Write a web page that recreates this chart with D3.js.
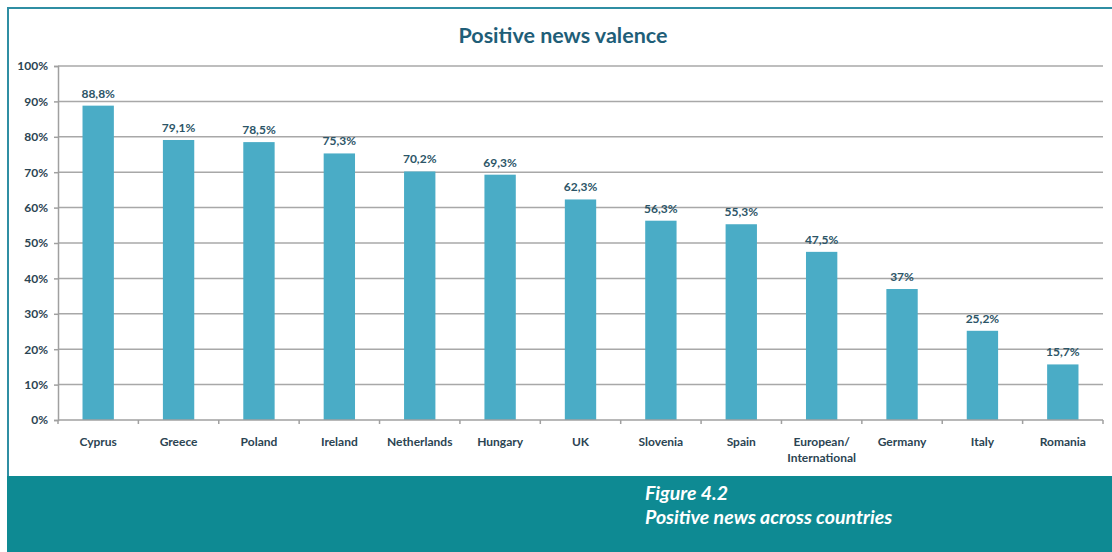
<!DOCTYPE html>
<html>
<head>
<meta charset="utf-8">
<script src="https://cdn.jsdelivr.net/npm/d3@7"></script>
<style>
  html, body { margin: 0; padding: 0; background: #fff; }
  svg { display: block; }
</style>
</head>
<body>
<svg id="chart" width="1112" height="552"></svg>
<script>
const categories = ["Cyprus", "Greece", "Poland", "Ireland", "Netherlands", "Hungary", "UK", "Slovenia", "Spain", "European/International", "Germany", "Italy", "Romania"];
const categoryLines = [["Cyprus"], ["Greece"], ["Poland"], ["Ireland"], ["Netherlands"], ["Hungary"], ["UK"], ["Slovenia"], ["Spain"], ["European/", "International"], ["Germany"], ["Italy"], ["Romania"]];
const values = [88.8, 79.1, 78.5, 75.3, 70.2, 69.3, 62.3, 56.3, 55.3, 47.5, 37, 25.2, 15.7];
const valueLabels = ["88,8%", "79,1%", "78,5%", "75,3%", "70,2%", "69,3%", "62,3%", "56,3%", "55,3%", "47,5%", "37%", "25,2%", "15,7%"];
const yTicks = [0, 10, 20, 30, 40, 50, 60, 70, 80, 90, 100];
const title = "Positive news valence";
const captionLines = ["Figure 4.2", "Positive news across countries"];

const svg = d3.select("#chart");
const W = 1112, H = 552;
const font = "Lato, 'Open Sans', sans-serif";

// frame
svg.append("rect").attr("x", 0).attr("y", 0).attr("width", W).attr("height", H).attr("fill", "#fff");
svg.append("line").attr("x1", 8).attr("x2", W).attr("y1", 8).attr("y2", 8)
  .attr("stroke", "#2f8ea3").attr("stroke-width", 2);
svg.append("line").attr("x1", 8).attr("x2", 8).attr("y1", 7).attr("y2", H)
  .attr("stroke", "#2f8ea3").attr("stroke-width", 2);

// caption band
svg.append("rect").attr("x", 7).attr("y", 476).attr("width", W - 7).attr("height", H - 476).attr("fill", "#0e8a93");
svg.append("g").selectAll("text").data(captionLines).join("text")
  .attr("x", 645).attr("y", (d, i) => 500 + i * 24)
  .attr("fill", "#fff").attr("font-family", font).attr("font-weight", "bold")
  .attr("font-style", "italic").attr("font-size", 19.5).text(d => d);

// title
svg.append("text").attr("x", 563).attr("y", 43).attr("text-anchor", "middle")
  .attr("fill", "#1f5e78").attr("font-family", font).attr("font-weight", "bold")
  .attr("font-size", 21.5).text(title);

const pLeft = 58, pRight = 1103, pTop = 66, pBottom = 420;
const x = d3.scaleBand().domain(categories).range([pLeft, pRight]).paddingInner(0.61).paddingOuter(0.305);
const y = d3.scaleLinear().domain([0, 100]).range([pBottom, pTop]);

// gridlines
svg.append("g").selectAll("line").data(yTicks.filter(d => d > 0)).join("line")
  .attr("x1", pLeft).attr("x2", pRight).attr("y1", d => y(d)).attr("y2", d => y(d))
  .attr("stroke", "#a8a8a8").attr("stroke-width", 1.5);

// y axis
const yAxis = svg.append("g").attr("transform", `translate(${pLeft},0)`)
  .call(d3.axisLeft(y).tickValues(yTicks).tickFormat(d => d + "%").tickSize(4).tickPadding(6));
yAxis.select(".domain").attr("stroke", "#a0a0a0").attr("stroke-width", 1.5);
yAxis.selectAll(".tick line").attr("stroke", "#a0a0a0").attr("stroke-width", 1.5);
yAxis.selectAll(".tick text").attr("font-family", font).attr("font-weight", "bold")
  .attr("font-size", 12).attr("fill", "#2b4452");

// bars
svg.append("g").selectAll("rect").data(values).join("rect")
  .attr("x", (d, i) => x(categories[i]))
  .attr("width", x.bandwidth())
  .attr("y", d => y(d))
  .attr("height", d => y(0) - y(d))
  .attr("fill", "#4aacc6");

// value labels
svg.append("g").selectAll("text").data(values).join("text")
  .attr("x", (d, i) => x(categories[i]) + x.bandwidth() / 2)
  .attr("y", d => y(d) - 8)
  .attr("text-anchor", "middle")
  .attr("font-family", font).attr("font-weight", "bold").attr("font-size", 12)
  .attr("fill", "#2c5567")
  .text((d, i) => valueLabels[i]);

// x axis
const xAxis = svg.append("g").attr("transform", `translate(0,${pBottom})`);
xAxis.append("line").attr("x1", pLeft).attr("x2", pRight).attr("y1", 0).attr("y2", 0)
  .attr("stroke", "#a0a0a0").attr("stroke-width", 1.5);
const step = x.step();
const boundaries = d3.range(categories.length + 1).map(i => pLeft + i * step);
xAxis.selectAll("line.tk").data(boundaries).join("line").attr("class", "tk")
  .attr("x1", d => d).attr("x2", d => d).attr("y1", 0).attr("y2", 4)
  .attr("stroke", "#a0a0a0").attr("stroke-width", 1.5);
const lbl = xAxis.selectAll("text").data(categories).join("text")
  .attr("x", d => x(d) + x.bandwidth() / 2)
  .attr("y", 26)
  .attr("text-anchor", "middle")
  .attr("font-family", font).attr("font-weight", "bold").attr("font-size", 12)
  .attr("fill", "#2b4452");
lbl.each(function(d, i) {
  const t = d3.select(this);
  categoryLines[i].forEach((line, j) => {
    t.append("tspan").attr("x", x(d) + x.bandwidth() / 2).attr("dy", j === 0 ? 0 : 16).text(line);
  });
});
</script>
</body>
</html>
